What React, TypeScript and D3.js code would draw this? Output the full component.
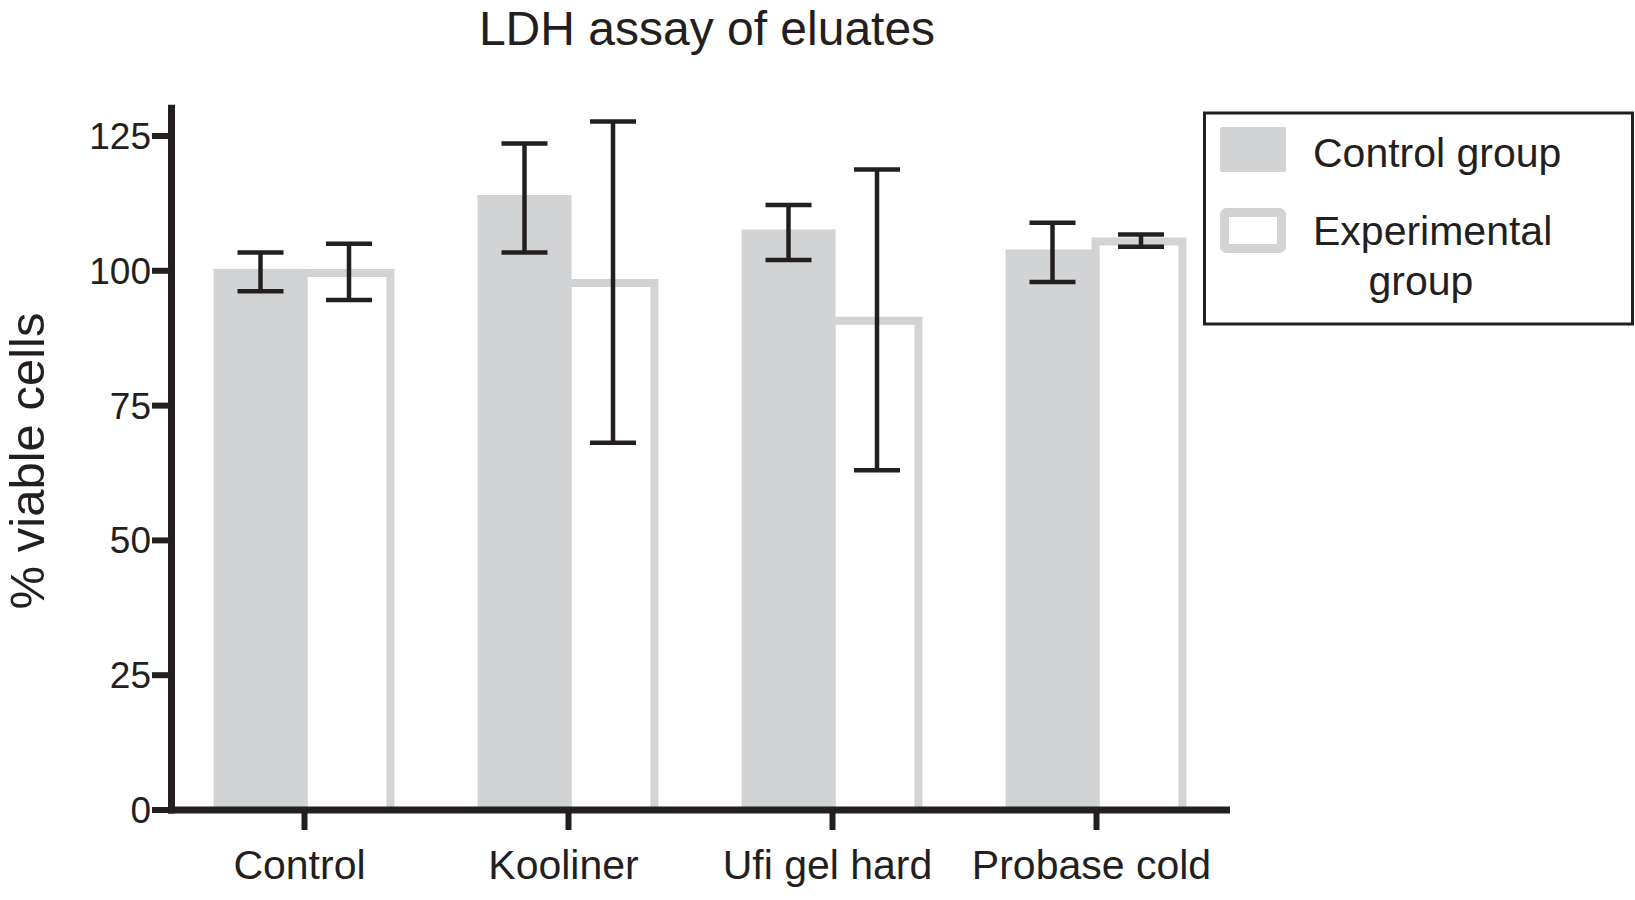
import React from "react";
import * as d3 from "d3";

const categories = ["Control", "Kooliner", "Ufi gel hard", "Probase cold"];
const controlMean = [99.8, 113.5, 107.1, 103.4];
const controlSD = [3.6, 10.1, 5.1, 5.5];
const expMean = [99.8, 97.9, 90.9, 105.6];
const expSD = [5.2, 29.8, 27.9, 1.15];
const yTicks = [0, 25, 50, 75, 100, 125];
const seriesNames = ["Control group", "Experimental group"];

const W = 1635;
const H = 900;
const INK = "#231f20";
const GRAY = "#d1d3d4";
const FONT = "'Liberation Sans', Arial, Helvetica, sans-serif";

export default function App() {
  const x = d3.scalePoint<string>().domain(categories).range([304.5, 1096.5]);
  const y = d3.scaleLinear().domain([0, 125]).range([810, 136]);
  const axisX = 171.5;
  const axisTop = y(130.8);
  const axisRight = 1230;

  const grayL = -91, grayR = 3;
  const expL = -5, expR = 90;
  const sw = 8;
  const lift = 3;
  const cap = 23;

  return (
    <svg width={W} height={H} style={{ position: "absolute", left: 0, top: 0, background: "#fff" }} fontFamily={FONT}>
      <rect width={W} height={H} fill="#fff" />
      <text x={707} y={45} textAnchor="middle" fontSize={48} fill={INK}>LDH assay of eluates</text>

      {/* experimental bars (outlined) */}
      {categories.map((c, i) => {
        const cx = x(c)!;
        const top = y(expMean[i]) - lift + sw / 2;
        const l = cx + expL + sw / 2;
        const r = cx + expR - sw / 2;
        return (
          <path key={"e" + c} d={`M${l},${y(0)} V${top} H${r} V${y(0)}`} fill="#fff" stroke={GRAY} strokeWidth={sw} />
        );
      })}
      {/* control bars (filled) */}
      {categories.map((c, i) => {
        const cx = x(c)!;
        const top = y(controlMean[i]) - lift;
        return <rect key={"c" + c} x={cx + grayL} y={top} width={grayR - grayL} height={y(0) - top} fill={GRAY} />;
      })}

      {/* error bars */}
      {categories.map((c, i) => {
        const cx = x(c)!;
        const bars = [
          { ex: cx - 44, m: controlMean[i], s: controlSD[i] },
          { ex: cx + 44.5, m: expMean[i], s: expSD[i] },
        ];
        return bars.map((b, j) => {
          const yt = y(b.m + b.s);
          const yb = y(b.m - b.s);
          return (
            <g key={c + j} stroke={INK} strokeWidth={4.5}>
              <line x1={b.ex} x2={b.ex} y1={yt} y2={yb} />
              <line x1={b.ex - cap} x2={b.ex + cap} y1={yt} y2={yt} />
              <line x1={b.ex - cap} x2={b.ex + cap} y1={yb} y2={yb} />
            </g>
          );
        });
      })}

      {/* y axis */}
      <line x1={axisX} x2={axisX} y1={axisTop} y2={y(0) + 3.5} stroke={INK} strokeWidth={7} />
      {yTicks.map((t) => (
        <g key={"yt" + t}>
          <line x1={152} x2={axisX} y1={y(t)} y2={y(t)} stroke={INK} strokeWidth={6} />
          <text x={151} y={y(t) + 13} textAnchor="end" fontSize={37} fill={INK}>{t}</text>
        </g>
      ))}
      <text transform={`translate(44,461) rotate(-90)`} textAnchor="middle" fontSize={49} fill={INK}>% viable cells</text>

      {/* x axis */}
      <line x1={axisX - 3.5} x2={axisRight} y1={y(0)} y2={y(0)} stroke={INK} strokeWidth={7} />
      {categories.map((c) => (
        <g key={"xt" + c}>
          <line x1={x(c)!} x2={x(c)!} y1={y(0)} y2={y(0) + 20} stroke={INK} strokeWidth={6} />
          <text x={x(c)! - 5} y={879} textAnchor="middle" fontSize={41} fill={INK}>{c}</text>
        </g>
      ))}

      {/* legend */}
      <rect x={1204.5} y={113} width={428} height={211} fill="#fff" stroke={INK} strokeWidth={3} />
      <rect x={1220} y={127} width={66} height={45} rx={2} fill={GRAY} />
      <rect x={1224.5} y={212.5} width={57} height={36} rx={2} fill="#fff" stroke={GRAY} strokeWidth={9} />
      <text x={1313} y={167} fontSize={41} fill={INK}>{seriesNames[0]}</text>
      <text x={1313} y={245} fontSize={41} fill={INK}>Experimental</text>
      <text x={1421} y={295} textAnchor="middle" fontSize={41} fill={INK}>group</text>
    </svg>
  );
}
